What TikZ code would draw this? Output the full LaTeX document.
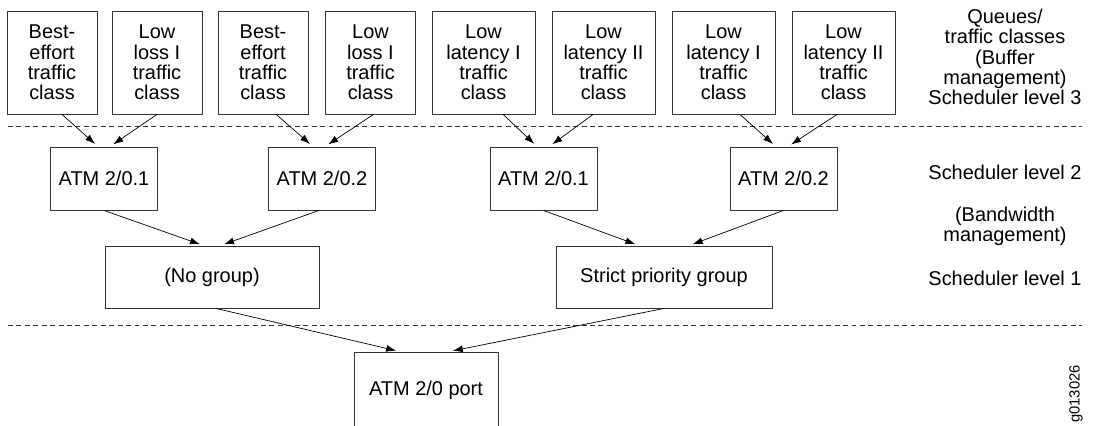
\documentclass[tikz,border=0pt]{standalone}
\usepackage{fontspec}
\setmainfont{Liberation Sans}
\usetikzlibrary{arrows.meta}

\begin{document}
\begin{tikzpicture}[font=\fontsize{14.2pt}{14.4pt}\selectfont, line width=0.6pt,
  box/.style={draw=black!80, align=center, inner sep=0pt},
  queue/.style={box, minimum width=2.25cm, minimum height=2.575cm},
  wqueue/.style={queue, minimum width=2.575cm},
  sched/.style={box, minimum width=2.675cm, minimum height=1.575cm},
  grp/.style={box, minimum height=1.55cm},
  arr/.style={-{Latex[length=7pt,width=5pt]}, black, line width=0.5pt, shorten >=0.1cm},
  sep/.style={dash pattern=on 3.5pt off 2.5pt, black!80, line width=0.5pt}]

\path[use as bounding box, clip] (0,0) rectangle (27.4,-10.625);

% queues / traffic classes
\node[queue] (q1) at (1.3,-1.5625) {Best-\\effort\\traffic\\class};
\node[queue] (q2) at (3.925,-1.5625) {Low\\loss I\\traffic\\class};
\node[queue] (q3) at (6.575,-1.5625) {Best-\\effort\\traffic\\class};
\node[queue] (q4) at (9.2625,-1.5625) {Low\\loss I\\traffic\\class};
\node[wqueue] (q5) at (12.0875,-1.5625) {Low\\latency I\\traffic\\class};
\node[wqueue] (q6) at (15.0875,-1.5625) {Low\\latency II\\traffic\\class};
\node[wqueue] (q7) at (18.0875,-1.5625) {Low\\latency I\\traffic\\class};
\node[wqueue] (q8) at (21.0875,-1.5625) {Low\\latency II\\traffic\\class};

% scheduler level 2
\node[sched] (s1) at (2.6,-4.4625) {ATM 2/0.1};
\node[sched] (s2) at (8.05,-4.4625) {ATM 2/0.2};
\node[sched] (s3) at (13.5875,-4.4625) {ATM 2/0.1};
\node[sched] (s4) at (19.5875,-4.4625) {ATM 2/0.2};

% scheduler level 1
\node[grp, minimum width=5.35cm] (g1) at (5.3,-6.925) {(No group)};
\node[grp, minimum width=5.4cm] (g2) at (16.6,-6.925) {Strict priority group};

% port (cut off at the bottom edge)
\node[box, minimum width=3.6cm, minimum height=1.9cm] (port) at (10.65,-9.75) {ATM 2/0 port};

% level separators
\draw[sep] (0.2,-3.15) -- (27.05,-3.15);
\draw[sep] (0.2,-8.125) -- (27.05,-8.125);

% arrows
\draw[arr] ([xshift=0.25cm]q1.south) -- ([xshift=-0.15cm]s1.north);
\draw[arr] (q2.south) -- ([xshift=0.15cm]s1.north);
\draw[arr] ([xshift=0.33cm]q3.south) -- ([xshift=-0.225cm]s2.north);
\draw[arr] ([xshift=0.075cm]q4.south) -- ([xshift=0.075cm]s2.north);
\draw[arr] ([xshift=0.49cm]q5.south) -- ([xshift=-0.16cm]s3.north);
\draw[arr] ([xshift=-0.26cm]q6.south) -- ([xshift=0.14cm]s3.north);
\draw[arr] ([xshift=0.41cm]q7.south) -- ([xshift=-0.19cm]s4.north);
\draw[arr] ([xshift=-0.16cm]q8.south) -- ([xshift=0.11cm]s4.north);

\draw[arr] (s1.south) -- ([xshift=-0.21cm]g1.north);
\draw[arr] ([xshift=-0.075cm]s2.south) -- ([xshift=0.21cm]g1.north);
\draw[arr] (s3.south) -- ([xshift=-0.625cm]g2.north);
\draw[arr] (s4.south) -- ([xshift=0.625cm]g2.north);

\draw[arr] ([xshift=0.1cm]g1.south) -- ([xshift=-0.65cm]port.north);
\draw[arr] (g2.south) -- ([xshift=0.575cm]port.north);

% level labels
\node[align=center] (l3) at (25.125,-1.425) {Queues/\\traffic classes\\(Buffer\\management)\\Scheduler level 3};
\node (l2) at (25.125,-4.3) {Scheduler level 2};
\node[align=center] (bw) at (25.125,-5.65) {(Bandwidth\\management)};
\node (l1) at (25.125,-6.95) {Scheduler level 1};
\node[rotate=90, font=\fontsize{10.5pt}{12pt}\selectfont] (fig) at (26.9,-9.85) {g013026};
\end{tikzpicture}
\end{document}
